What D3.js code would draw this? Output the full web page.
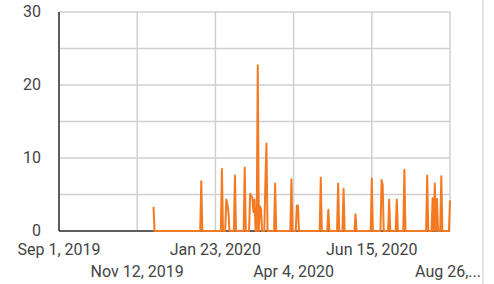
<!DOCTYPE html>
<html>
<head>
<meta charset="utf-8">
<script src="https://cdn.jsdelivr.net/npm/d3@7"></script>
<style>
  body { margin: 0; background: #fff; }
  text { font-family: Roboto, "Noto Sans", sans-serif; font-size: 16px; fill: #444; }
</style>
</head>
<body>
<svg></svg>
<script>
// daily series, first value is 2019-11-27
const START_DATE = '2019-11-27';
const DAILY_VALUES = [
  3.3, 0, 0, 0, 0, 0, 0, 0, 0, 0,
  0, 0, 0, 0, 0, 0, 0, 0, 0, 0,
  0, 0, 0, 0, 0, 0, 0, 0, 0, 0,
  0, 0, 0, 0, 0, 0, 0, 0, 0, 0,
  0, 0, 0, 0, 6.8, 0, 0, 0, 0, 0,
  0, 0, 0, 0, 0, 0, 0, 0, 0, 0,
  0, 0, 0, 8.5, 0, 0, 0, 4.3, 3.8, 2.6,
  0, 0, 0, 0, 0, 7.6, 0, 0, 0, 0,
  0, 0, 0, 0, 8.7, 0, 0, 0, 0, 5.1,
  4.8, 4.6, 2.6, 4.3, 0, 0, 22.7, 0, 3.4, 3.0,
  0, 0, 0, 6.6, 12.0, 0, 0, 0, 0, 0,
  0, 0, 6.5, 0, 0, 0, 0, 0, 0, 0,
  0, 0, 0, 0, 0, 0, 0, 7.1, 0, 0,
  0, 0, 3.5, 3.5, 0, 0, 0, 0, 0, 0,
  0, 0, 0, 0, 0, 0, 0, 0, 0, 0,
  0, 0, 0, 0, 7.3, 0, 0, 0, 0, 0,
  0, 2.9, 0, 0, 0, 0, 0, 0, 0, 0,
  6.5, 0, 0, 0, 0, 5.8, 0, 0, 0, 0,
  0, 0, 0, 0, 0, 0, 2.3, 0, 0, 0,
  0, 0, 0, 0, 0, 0, 0, 0, 0, 0,
  0, 7.2, 0, 0, 0, 0, 0, 0, 0, 0,
  7.0, 6.3, 0, 0, 0, 0, 0, 4.3, 0, 0,
  0, 0, 0, 0, 4.3, 0, 0, 0, 0, 0,
  0, 8.4, 0, 0, 0, 0, 0, 0, 0, 0,
  0, 0, 0, 0, 0, 0, 0, 0, 0, 0,
  0, 0, 7.6, 0, 0, 0, 0, 4.5, 0, 6.5,
  0, 4.4, 0, 0, 0, 7.5, 0, 0, 0, 0,
  0, 0, 0, 4.2
];

const X_DOMAIN = ['2019-09-01', '2020-08-26'];
const X_TICKS = ['2019-09-01', '2019-11-12', '2020-01-23', '2020-04-04', '2020-06-15', '2020-08-26'];
const X_TICK_LABELS = ['Sep 1, 2019', 'Nov 12, 2019', 'Jan 23, 2020', 'Apr 4, 2020', 'Jun 15, 2020', 'Aug 26,...'];
const Y_TICKS = [0, 10, 20, 30];

const WIDTH = 494, HEIGHT = 284;
const M = {left: 59, right: 44, top: 12, bottom: 53};

const parse = d3.utcParse('%Y-%m-%d');
const start = parse(START_DATE);
const data = DAILY_VALUES.map((v, i) => ({date: d3.utcDay.offset(start, i), value: v}));

const x = d3.scaleUtc().domain(X_DOMAIN.map(parse)).range([M.left, WIDTH - M.right]);
const y = d3.scaleLinear().domain([0, 30]).range([HEIGHT - M.bottom, M.top]);

const svg = d3.select('svg').attr('width', WIDTH).attr('height', HEIGHT);

// grid
svg.append('g')
  .selectAll('line')
  .data(y.ticks(6))
  .join('line')
  .attr('x1', M.left).attr('x2', WIDTH - M.right)
  .attr('y1', d => y(d)).attr('y2', d => y(d))
  .attr('stroke', '#d0d0d0').attr('stroke-width', 1.5);

svg.append('g')
  .selectAll('line')
  .data(X_TICKS.map(parse))
  .join('line')
  .attr('x1', d => x(d)).attr('x2', d => x(d))
  .attr('y1', M.top).attr('y2', HEIGHT - M.bottom)
  .attr('stroke', '#d0d0d0').attr('stroke-width', 1.5);

// axis lines
svg.append('line')
  .attr('x1', M.left).attr('x2', WIDTH - M.right)
  .attr('y1', y(0)).attr('y2', y(0))
  .attr('stroke', '#333').attr('stroke-width', 1.5);
svg.append('line')
  .attr('x1', M.left).attr('x2', M.left)
  .attr('y1', M.top).attr('y2', y(0))
  .attr('stroke', '#333').attr('stroke-width', 1.5);

// y labels
svg.append('g')
  .selectAll('text')
  .data(Y_TICKS)
  .join('text')
  .attr('x', 41)
  .attr('y', d => y(d) + 5)
  .attr('text-anchor', 'end')
  .text(d => d);

// x labels, alternating rows
svg.append('g')
  .selectAll('text')
  .data(X_TICKS)
  .join('text')
  .attr('x', (d, i) => i === X_TICKS.length - 1 ? 481 : x(parse(d)))
  .attr('y', (d, i) => i % 2 === 0 ? 255 : 277)
  .attr('text-anchor', (d, i) => i === X_TICKS.length - 1 ? 'end' : 'middle')
  .text((d, i) => X_TICK_LABELS[i]);

// series
svg.append('path')
  .datum(data)
  .attr('fill', 'none')
  .attr('stroke', '#f47a22')
  .attr('stroke-width', 2)
  .attr('stroke-linejoin', 'round')
  .attr('d', d3.line().x(d => x(d.date)).y(d => y(d.value)));

// card border on the right
svg.append('line')
  .attr('x1', 483).attr('x2', 483)
  .attr('y1', 0).attr('y2', HEIGHT)
  .attr('stroke', '#ddd').attr('stroke-width', 1.5);
</script>
</body>
</html>
